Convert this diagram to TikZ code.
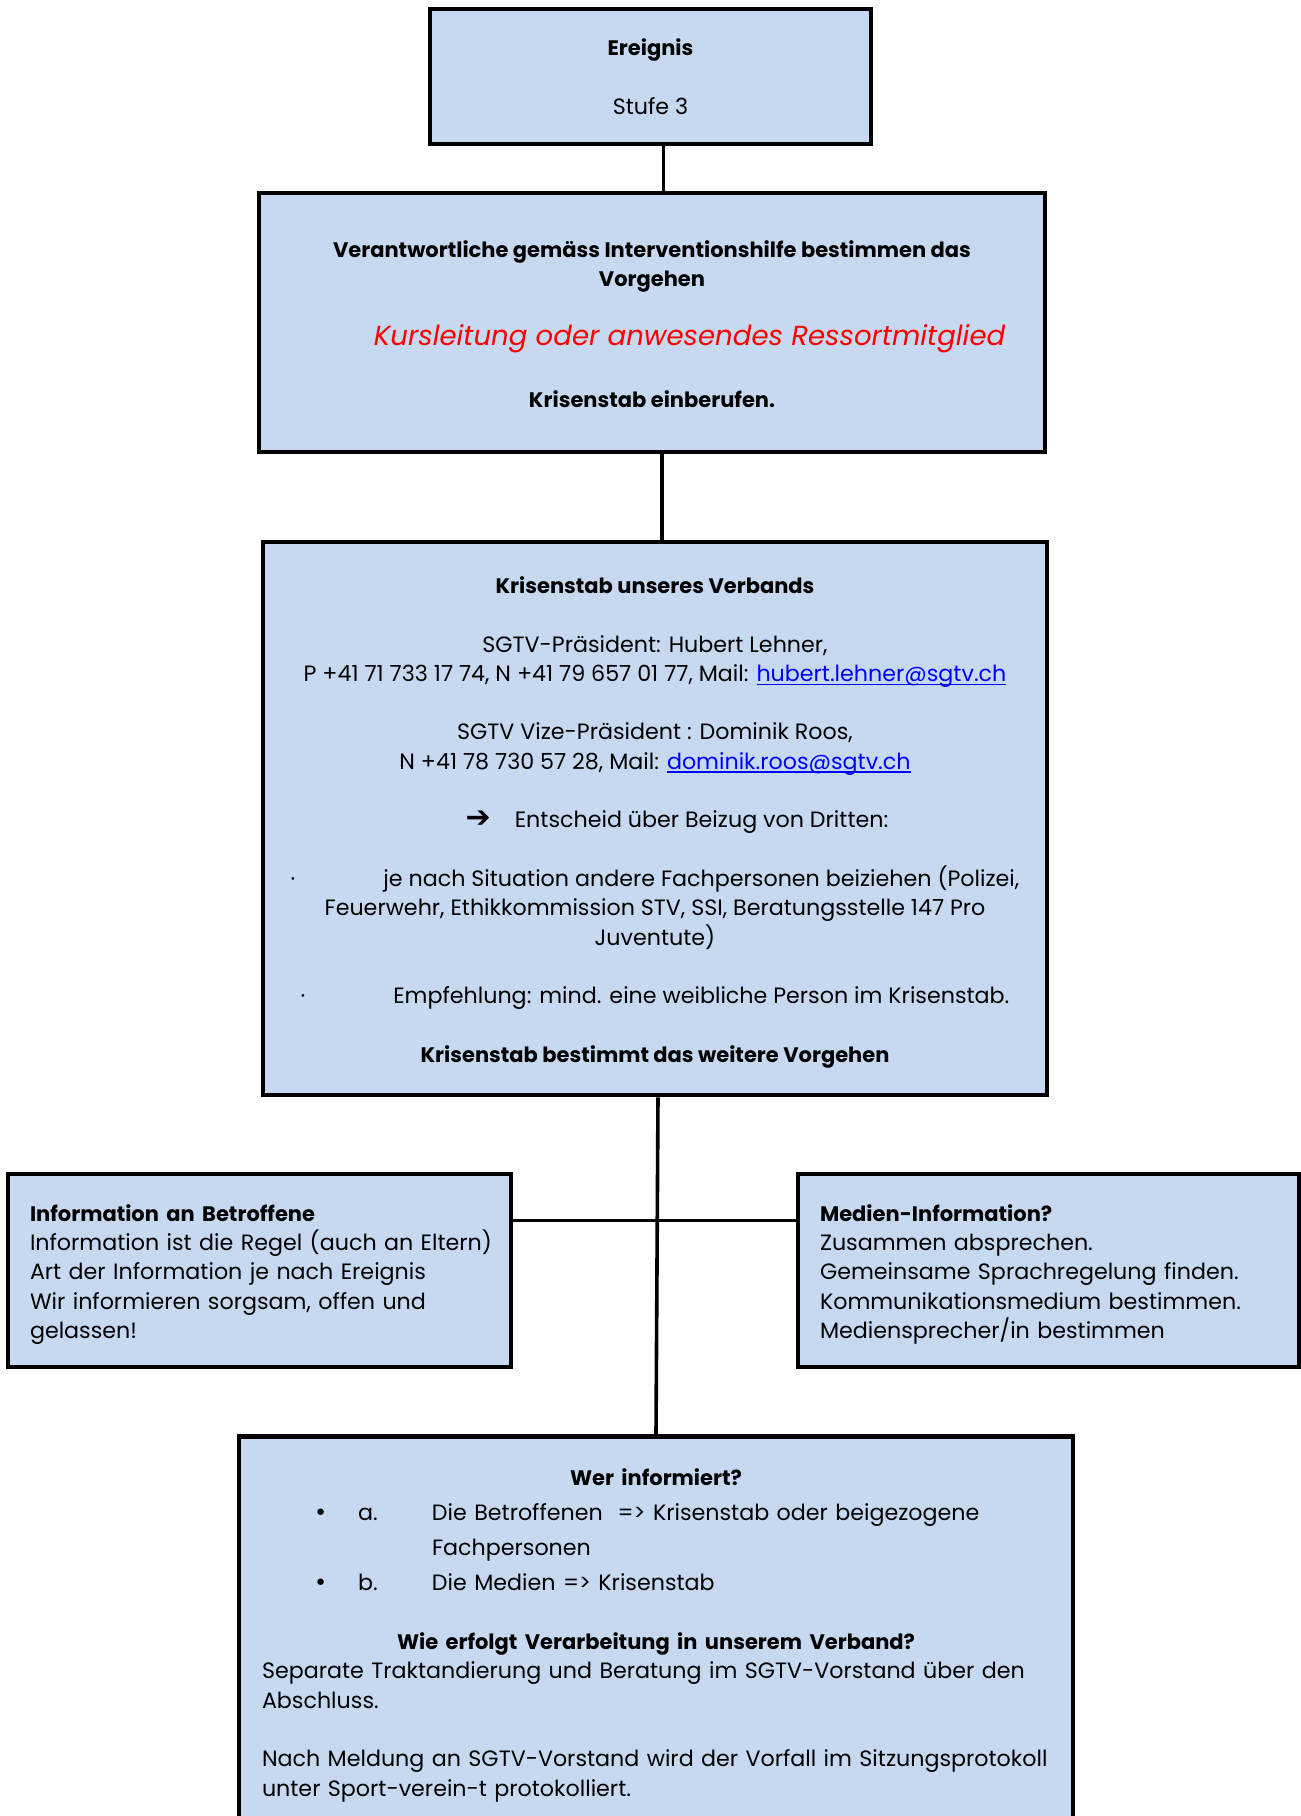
\documentclass[tikz,border=0pt]{standalone}
\usepackage{fontspec}
\setmainfont{Poppins}
\newfontfamily\symfont{DejaVu Sans}
\definecolor{boxblue}{HTML}{C6D9F1}
\newcommand{\hd}[1]{{\fontsize{10.5}{14.65}\selectfont\bfseries #1}}
\newsavebox{\mailbox}
\newcommand{\maillink}[1]{\textcolor{blue}{\sbox{\mailbox}{#1}\rlap{\rule[-1.7pt]{\wd\mailbox}{0.6pt}}\usebox{\mailbox}}}
\newcommand{\wlitem}[3]{\hspace*{26pt}\makebox[22pt][l]{#1}\makebox[37pt][l]{#2}#3}
\newcommand{\toplift}{\rule{0pt}{12.2pt}}

\begin{document}
\begin{tikzpicture}[x=0.5pt,y=-0.5pt]

        \useasboundingbox (0,0) rectangle (1301,1816);
        \clip (0,0) rectangle (1301,1816);

        \begin{scope}[every node/.style={rectangle,draw,line width=2.4pt,fill=boxblue,inner sep=0pt,font=\fontsize{11.1}{14.65}\selectfont}]
          \node[minimum width=220.5pt,minimum height=67.5pt,align=center] (1) at (650.5,76.5)
            {\hd{Ereignis}\\[14.65pt]Stufe 3};
          \node[minimum width=393pt,minimum height=129.5pt,align=center] (2) at (652,322.5)
            {\rule{0pt}{10pt}\hd{Verantwortliche gemäss Interventionshilfe bestimmen das}\\
             \hd{Vorgehen}\\[14.85pt]
             {\fontsize{13.8}{16}\selectfont\itshape\color{red}\hspace*{37.6pt}Kursleitung oder anwesendes Ressortmitglied}\\[16.35pt]
             \hd{Krisenstab einberufen.}};
          \node[minimum width=392pt,minimum height=276.5pt,align=center] (3) at (655,818.5)
            {\toplift\hd{Krisenstab unseres Verbands}\\[14.65pt]
             SGTV-Präsident: Hubert Lehner,\\
             P +41 71 733 17 74, N +41 79 657 01 77, Mail: \maillink{hubert.lehner@sgtv.ch}\\[14.65pt]
             SGTV Vize-Präsident : Dominik Roos,\\
             N +41 78 730 57 28, Mail: \maillink{dominik.roos@sgtv.ch}\\[14.65pt]
             \hspace*{22pt}{\symfont\bfseries\fontsize{15}{14}\selectfont ➔}\hspace{12pt}Entscheid über Beizug von Dritten:\\[14.65pt]
             ·\hspace{44pt}je nach Situation andere Fachpersonen beiziehen (Polizei,\\
             Feuerwehr, Ethikkommission STV, SSI, Beratungsstelle 147 Pro\\
             Juventute)\\[14.65pt]
             ·\hspace{44pt}Empfehlung: mind. eine weibliche Person im Krisenstab.\\[14.65pt]
             \hd{Krisenstab bestimmt das weitere Vorgehen}};
          \node[minimum height=96.5pt,text width=229.5pt,inner xsep=11pt,align=left] (4) at (259.5,1270.5)
            {\toplift\hd{Information an Betroffene}\\
             \makebox[229.5pt][l]{Information ist die Regel (auch an Eltern)}\\
             Art der Information je nach Ereignis\\
             Wir informieren sorgsam, offen und\\
             gelassen!};
          \node[minimum height=96.5pt,text width=228.5pt,inner xsep=11pt,align=left] (5) at (1048.5,1270.5)
            {\toplift\hd{Medien-Information?}\\
             Zusammen absprechen.\\
             Gemeinsame Sprachregelung finden.\\
             Kommunikationsmedium bestimmen.\\
             Mediensprecher/in bestimmen};
          \node[anchor=north,text width=394pt,inner xsep=11.5pt,inner ysep=16.2pt,align=left] (6) at (656,1434)
            {\makebox[394pt][c]{\hd{Wer informiert?}}\\[2.85pt]
             \wlitem{{\symfont •}}{a.}{Die Betroffenen\ \ => Krisenstab oder beigezogene}\\[2.85pt]
             \wlitem{}{}{Fachpersonen}\\[2.85pt]
             \wlitem{{\symfont •}}{b.}{Die Medien => Krisenstab}\\[14.85pt]
             \makebox[394pt][c]{\hd{Wie erfolgt Verarbeitung in unserem Verband?}}\\
             Separate Traktandierung und Beratung im SGTV-Vorstand über den\\
             Abschluss.\\[14.65pt]
             Nach Meldung an SGTV-Vorstand wird der Vorfall im Sitzungsprotokoll\\
             unter Sport-verein-t protokolliert.\\[8pt]\mbox{}};
        \end{scope}

        \begin{scope}[every edge/.style={draw,line width=1.8pt}]
          \path ([xshift=6.5pt]1.south) edge ([xshift=6.5pt]1.south |- 2.north);
          \path ([xshift=5pt]2.south) edge ([xshift=5pt]2.south |- 3.north);
          \path ([xshift=1.5pt]3.south) edge (6.north);
          \path ([yshift=25pt]4.east) edge ([yshift=25pt]5.west);
        \end{scope}

      \end{tikzpicture}
\end{document}
